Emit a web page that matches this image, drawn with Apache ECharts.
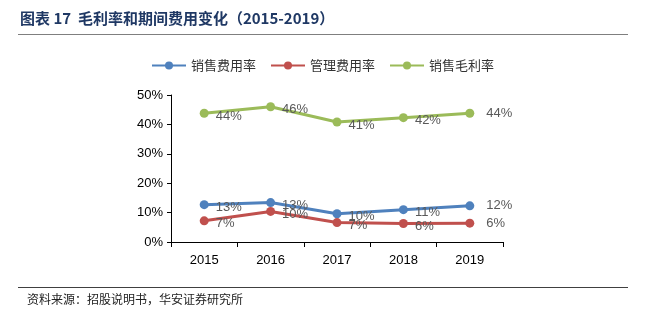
<!DOCTYPE html>
<html>
<head>
<meta charset="utf-8">
<script src="https://cdn.jsdelivr.net/npm/echarts@6/dist/echarts.min.js"></script>
<style>
  html, body { margin: 0; padding: 0; background: #fff; }
  #chart { width: 645px; height: 321px; }
</style>
</head>
<body>
<div id="chart"></div>
<script>
// Years on the category axis
const years = ['2015', '2016', '2017', '2018', '2019'];
// Ratios in percent
const sellingExpenseRate = [12.7, 13.4, 9.6, 11.0, 12.3];
const adminExpenseRate = [7.2, 10.4, 6.6, 6.3, 6.4];
const grossMarginRate = [43.8, 46.0, 40.8, 42.3, 43.8];
// Value axis ticks
const yTicks = [0, 10, 20, 30, 40, 50];

const FONT = '"Noto Sans CJK SC", "Liberation Sans", sans-serif';

function makeSeries(name, data, color) {
  return {
    name: name,
    type: 'line',
    data: data.map(function (v, i) {
      const last = i === data.length - 1;
      return {
        value: v,
        label: last ? { distance: 12, offset: [0, 0] } : {}
      };
    }),
    symbol: 'circle',
    symbolSize: 9,
    lineStyle: { width: 3, color: color },
    itemStyle: { color: color },
    label: {
      show: true,
      position: 'right',
      distance: 7,
      offset: [0, 3],
      color: '#595959',
      fontSize: 13,
      fontFamily: 'Liberation Sans, sans-serif',
      formatter: function (p) { return Math.round(p.value) + '%'; }
    },
    emphasis: { disabled: true },
    animation: false
  };
}

const chart = echarts.init(document.getElementById('chart'), null, { renderer: 'canvas' });
chart.setOption({
  backgroundColor: '#fff',
  animation: false,
  graphic: [
    {
      type: 'text', left: 20, top: 11,
      style: { text: '图表 17  毛利率和期间费用变化（2015-2019）', fill: '#1F3864', font: 'bold 15px ' + FONT }
    },
    {
      type: 'line', shape: { x1: 18, y1: 34.5, x2: 628, y2: 34.5 },
      style: { stroke: '#7f7f7f', lineWidth: 1.2 }
    },
    {
      type: 'line', shape: { x1: 18, y1: 287.5, x2: 628, y2: 287.5 },
      style: { stroke: '#404040', lineWidth: 1 }
    },
    {
      type: 'text', left: 27, top: 293,
      style: { text: '资料来源：招股说明书，华安证券研究所', fill: '#222', font: '12px ' + FONT }
    }
  ],
  legend: {
    top: 54,
    left: 'center',
    itemWidth: 34,
    itemHeight: 10,
    itemGap: 14,
    textStyle: { fontSize: 13, color: '#333', fontFamily: FONT },
    data: ['销售费用率', '管理费用率', '销售毛利率']
  },
  grid: { left: 171, right: 142, top: 95, bottom: 79, containLabel: false },
  xAxis: {
    type: 'category',
    data: years,
    boundaryGap: true,
    axisLine: { lineStyle: { color: '#000', width: 1 } },
    axisTick: { show: true, length: 5, inside: false, lineStyle: { color: '#000' } },
    axisLabel: { color: '#000', fontSize: 13, margin: 12, fontFamily: 'Liberation Sans, sans-serif' }
  },
  yAxis: {
    type: 'value',
    min: yTicks[0],
    max: yTicks[yTicks.length - 1],
    interval: 10,
    axisLine: { show: true, lineStyle: { color: '#000', width: 1 } },
    axisTick: { show: true, length: 4, inside: false, lineStyle: { color: '#000' } },
    splitLine: { show: false },
    axisLabel: { color: '#000', fontSize: 13, margin: 8, fontFamily: 'Liberation Sans, sans-serif', formatter: '{value}%' }
  },
  series: [
    makeSeries('销售费用率', sellingExpenseRate, '#4F81BD'),
    makeSeries('管理费用率', adminExpenseRate, '#C0504D'),
    makeSeries('销售毛利率', grossMarginRate, '#9BBB59')
  ]
});
</script>
</body>
</html>
